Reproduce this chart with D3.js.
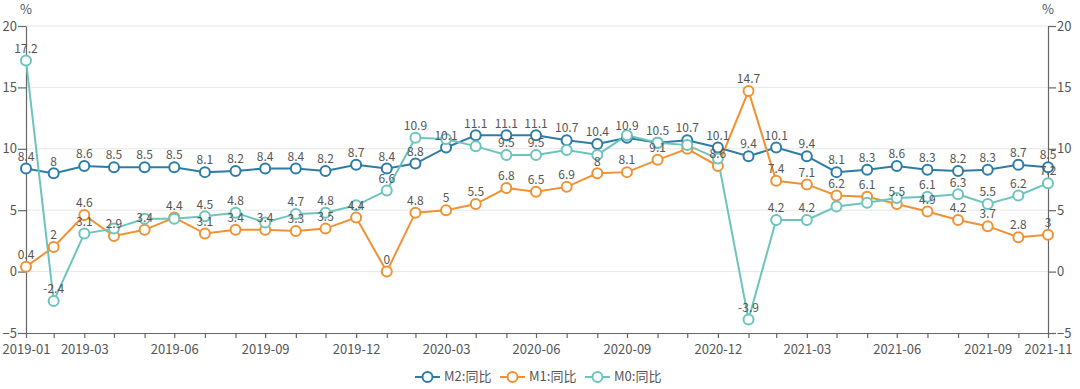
<!DOCTYPE html>
<html>
<head>
<meta charset="utf-8">
<script src="https://cdn.jsdelivr.net/npm/d3@7"></script>
<style>
  body { margin: 0; background: #fff; }
  svg text { font-family: "Noto Sans CJK SC", "Noto Sans", sans-serif; }
</style>
</head>
<body>
<script>
// months 2019-01 .. 2021-11
var months = ["2019-01","2019-02","2019-03","2019-04","2019-05","2019-06","2019-07","2019-08","2019-09","2019-10","2019-11","2019-12",
              "2020-01","2020-02","2020-03","2020-04","2020-05","2020-06","2020-07","2020-08","2020-09","2020-10","2020-11","2020-12",
              "2021-01","2021-02","2021-03","2021-04","2021-05","2021-06","2021-07","2021-08","2021-09","2021-10","2021-11"];
var m2 = [8.4,8,8.6,8.5,8.5,8.5,8.1,8.2,8.4,8.4,8.2,8.7, 8.4,8.8,10.1,11.1,11.1,11.1,10.7,10.4,10.9,10.5,10.7,10.1, 9.4,10.1,9.4,8.1,8.3,8.6,8.3,8.2,8.3,8.7,8.5];
var m1 = [0.4,2,4.6,2.9,3.4,4.4,3.1,3.4,3.4,3.3,3.5,4.4, 0,4.8,5,5.5,6.8,6.5,6.9,8,8.1,9.1,10,8.6, 14.7,7.4,7.1,6.2,6.1,5.5,4.9,4.2,3.7,2.8,3];
var m0 = [17.2,-2.4,3.1,3.5,4.3,4.3,4.5,4.8,4.0,4.7,4.8,5.4, 6.6,10.9,10.8,10.2,9.5,9.5,9.9,9.5,11.1,10.5,10.3,9.2, -3.9,4.2,4.2,5.3,5.6,6.0,6.1,6.3,5.5,6.2,7.2];
var yTicks = [-5,0,5,10,15,20];
var xLabelIdx = [0,2,5,8,11,14,17,20,23,26,29,32,34];

var seriesNames = ["M2:同比","M1:同比","M0:同比"];
var seriesData = [m2, m1, m0];
var colors = ["#2d7ca6", "#ef9233", "#6cc4bd"];

var W = 1080, H = 389;
var plotL = 26, plotR = 1048, plotT = 26, plotB = 333;

// month-end dates, time axis
var dates = months.map(function(m) {
  var p = m.split("-");
  return new Date(+p[0], +p[1], 0);
});
var fmt = d3.timeFormat("%Y-%m");

var x = d3.scaleTime().domain([dates[0], dates[dates.length-1]]).range([plotL, plotR]);
var y = d3.scaleLinear().domain([-5, 20]).range([plotB, plotT]);

var svg = d3.select("body").append("svg")
  .attr("width", W)
  .attr("height", H);

// grid
svg.append("g").selectAll("line")
  .data(yTicks.filter(function(d){ return d > -5; }))
  .enter().append("line")
    .attr("x1", plotL).attr("x2", plotR)
    .attr("y1", function(d){ return y(d); })
    .attr("y2", function(d){ return y(d); })
    .attr("stroke", "#e6e6e6")
    .attr("stroke-width", 1);

function styleAxis(g) {
  g.select(".domain").attr("stroke", "#666").attr("stroke-width", 1.2);
  g.selectAll(".tick line").attr("stroke", "#666").attr("stroke-width", 1.2);
  g.selectAll(".tick text").attr("fill", "#555").attr("font-size", 13);
}

svg.append("g")
  .attr("transform", "translate(" + plotL + ",0)")
  .call(d3.axisLeft(y).tickValues(yTicks).tickSize(8).tickPadding(1).tickSizeOuter(0))
  .call(styleAxis);

svg.append("g")
  .attr("transform", "translate(" + plotR + ",0)")
  .call(d3.axisRight(y).tickValues(yTicks).tickSize(8).tickPadding(1).tickSizeOuter(0))
  .call(styleAxis);

svg.append("g")
  .attr("transform", "translate(0," + plotB + ")")
  .call(d3.axisBottom(x).tickValues(dates).tickSize(5).tickPadding(7).tickSizeOuter(0)
    .tickFormat(function(d, i){ return xLabelIdx.indexOf(i) >= 0 ? fmt(d) : ""; }))
  .call(styleAxis);

// unit labels
svg.append("text").attr("x", plotL).attr("y", 14).attr("text-anchor", "middle")
  .attr("fill", "#555").attr("font-size", 13).text("%");
svg.append("text").attr("x", plotR).attr("y", 14).attr("text-anchor", "middle")
  .attr("fill", "#555").attr("font-size", 13).text("%");

var line = d3.line()
  .x(function(d, i){ return x(dates[i]); })
  .y(function(d){ return y(d); });

seriesData.forEach(function(s, k) {
  svg.append("path")
    .datum(s)
    .attr("fill", "none")
    .attr("stroke", colors[k])
    .attr("stroke-width", 2)
    .attr("d", line);
});

seriesData.forEach(function(s, k) {
  svg.append("g").selectAll("circle")
    .data(s)
    .enter().append("circle")
      .attr("cx", function(d, i){ return x(dates[i]); })
      .attr("cy", function(d){ return y(d); })
      .attr("r", 5)
      .attr("fill", "#fff")
      .attr("stroke", colors[k])
      .attr("stroke-width", 2);
});

// value labels, hide ones that overlap (first series wins)
var placed = [];
var labelG = svg.append("g");
seriesData.forEach(function(s, k) {
  s.forEach(function(d, i) {
    var cx = x(dates[i]), cy = y(d) - 11;
    var t = labelG.append("text")
      .attr("x", cx).attr("y", cy)
      .attr("text-anchor", "middle")
      .attr("dominant-baseline", "middle")
      .attr("font-size", 12)
      .attr("fill", "#555")
      .text(d);
    var b = t.node().getBBox();
    var box = {x0: b.x, x1: b.x + b.width, y0: cy - 7, y1: cy + 7};
    var hit = placed.some(function(p){
      return box.x0 < p.x1 && box.x1 > p.x0 && box.y0 < p.y1 && box.y1 > p.y0;
    });
    if (hit) t.remove(); else placed.push(box);
  });
});

// legend
var legendX = [415, 500, 585];
var legend = svg.append("g").selectAll("g")
  .data(seriesNames)
  .enter().append("g")
    .attr("transform", function(d, i){ return "translate(" + legendX[i] + ",377)"; });
legend.append("line")
  .attr("x1", 0).attr("x2", 25).attr("y1", 0).attr("y2", 0)
  .attr("stroke", function(d, i){ return colors[i]; })
  .attr("stroke-width", 2);
legend.append("circle")
  .attr("cx", 12.5).attr("cy", 0).attr("r", 5)
  .attr("fill", "#fff")
  .attr("stroke", function(d, i){ return colors[i]; })
  .attr("stroke-width", 2);
legend.append("text")
  .attr("x", 29).attr("y", 0)
  .attr("dominant-baseline", "middle")
  .attr("font-size", 13)
  .attr("fill", "#555")
  .text(function(d){ return d; });
</script>
</body>
</html>
